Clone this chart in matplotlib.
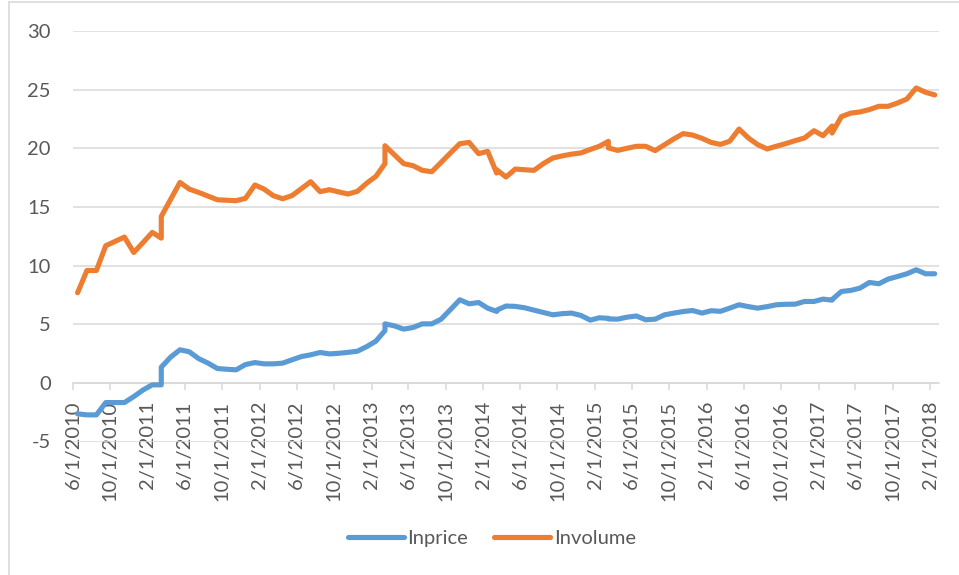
import numpy as np
import pandas as pd
import matplotlib
matplotlib.use("Agg")
import matplotlib.pyplot as plt
from matplotlib.patches import Rectangle

plt.rcParams['font.family'] = ['Lato', 'DejaVu Sans']
plt.rcParams['axes.unicode_minus'] = False

# monthly observations (two readings in some March months)
months = [
    '2010-06', '2010-07', '2010-08', '2010-09', '2010-10', '2010-11', '2010-12',
    '2011-01', '2011-02', '2011-03', '2011-03', '2011-04', '2011-05', '2011-06', '2011-07',
    '2011-08', '2011-09', '2011-10', '2011-11', '2011-12',
    '2012-01', '2012-02', '2012-03', '2012-04', '2012-05', '2012-06', '2012-07',
    '2012-08', '2012-09', '2012-10', '2012-11', '2012-12',
    '2013-01', '2013-02', '2013-03', '2013-03', '2013-04', '2013-05', '2013-06', '2013-07',
    '2013-08', '2013-09', '2013-10', '2013-11', '2013-12',
    '2014-01', '2014-02', '2014-03', '2014-03', '2014-04', '2014-05', '2014-06', '2014-07',
    '2014-08', '2014-09', '2014-10', '2014-11', '2014-12',
    '2015-01', '2015-02', '2015-03', '2015-03', '2015-04', '2015-05', '2015-06', '2015-07',
    '2015-08', '2015-09', '2015-10', '2015-11', '2015-12',
    '2016-01', '2016-02', '2016-03', '2016-04', '2016-05', '2016-06', '2016-07',
    '2016-08', '2016-09', '2016-10', '2016-11', '2016-12',
    '2017-01', '2017-02', '2017-03', '2017-03', '2017-04', '2017-05', '2017-06', '2017-07',
    '2017-08', '2017-09', '2017-10', '2017-11', '2017-12',
    '2018-01', '2018-02',
]

inprice = [
    -2.64, -2.73, -2.73, -1.68, -1.68, -1.68, -1.17,
    -0.60, -0.17, -0.17, 1.34, 2.19, 2.82, 2.65, 2.07, 1.68, 1.22, 1.16, 1.11, 1.56,
    1.73, 1.62, 1.62, 1.68, 1.96, 2.24, 2.39, 2.59, 2.47, 2.52, 2.60, 2.70,
    3.10, 3.56, 4.46, 5.03, 4.86, 4.58, 4.72, 5.03, 5.03, 5.43, 6.25, 7.08, 6.74,
    6.85, 6.37, 6.09, 6.20, 6.55, 6.52, 6.40, 6.20, 6.00, 5.80, 5.90, 5.95, 5.75,
    5.35, 5.55, 5.50, 5.45, 5.43, 5.60, 5.70, 5.38, 5.43, 5.80, 5.95, 6.08, 6.17,
    5.95, 6.15, 6.10, 6.37, 6.66, 6.50, 6.37, 6.50, 6.66, 6.70, 6.71, 6.94,
    6.94, 7.14, 7.05, 7.10, 7.79, 7.88, 8.08, 8.56, 8.45, 8.85, 9.07, 9.30, 9.64,
    9.30, 9.30,
]

involume = [
    7.68, 9.58, 9.58, 11.69, 12.06, 12.43, 11.12,
    11.98, 12.83, 12.34, 14.19, 15.64, 17.09, 16.52, 16.24, 15.92, 15.61, 15.57, 15.53, 15.73,
    16.87, 16.52, 15.96, 15.70, 15.96, 16.55, 17.15, 16.30, 16.47, 16.28, 16.10, 16.33,
    17.04, 17.61, 18.69, 20.22, 19.45, 18.69, 18.52, 18.12, 18.00, 18.80, 19.60, 20.39, 20.50,
    19.54, 19.74, 17.89, 18.17, 17.55, 18.23, 18.17, 18.12, 18.70, 19.17, 19.35, 19.50, 19.60,
    19.90, 20.17, 20.59, 20.03, 19.82, 20.00, 20.17, 20.17, 19.80, 20.30, 20.80, 21.25, 21.13,
    20.85, 20.50, 20.33, 20.60, 21.64, 20.88, 20.31, 19.94, 20.18, 20.40, 20.65, 20.88,
    21.50, 21.07, 21.90, 21.30, 22.70, 23.00, 23.10, 23.30, 23.58, 23.58, 23.86, 24.20, 25.14,
    24.77, 24.55,
]

blue = '#5B9BD5'
orange = '#ED7D31'
grid_c = '#D9D9D9'
text_c = '#595959'

# Excel date axis: each point sits in the middle of its month
start = pd.to_datetime(months)
x = start + (start + pd.offsets.MonthBegin(1) - start) / 2

fig = plt.figure(figsize=(9.59, 5.75), dpi=100)
ax = fig.add_axes([73 / 959, 1 - 441.5 / 575, (939 - 73) / 959, (441.5 - 31) / 575])

ax.plot(x, inprice, color=blue, lw=3.7, solid_capstyle='round', solid_joinstyle='round',
        label='Inprice', zorder=3)
ax.plot(x, involume, color=orange, lw=3.7, solid_capstyle='round', solid_joinstyle='round',
        label='Involume', zorder=3)

ax.set_ylim(-5, 30)
ax.set_yticks(np.arange(-5, 31, 5))
ax.set_xlim(pd.Timestamp('2010-06-01'), pd.Timestamp('2018-03-01'))

ticks = pd.date_range('2010-06-01', '2018-02-01', freq='4MS')
ax.set_xticks(ticks)
ax.set_xticklabels([f"{d.month}/{d.day}/{d.year}" for d in ticks])

ax.grid(axis='y', color=grid_c, lw=1.1, zorder=0)
for s in ['left', 'right', 'top']:
    ax.spines[s].set_visible(False)
ax.spines['bottom'].set_position(('data', 0))
ax.spines['bottom'].set_color(grid_c)
ax.spines['bottom'].set_linewidth(1.1)
ax.spines['bottom'].set_zorder(1)

ax.tick_params(axis='y', length=0, pad=16, labelsize=14.5, labelcolor=text_c)
ax.tick_params(axis='x', length=5, width=1.1, color=grid_c, pad=8, labelsize=14.5,
               labelcolor=text_c, labelrotation=90)

fig.legend(loc='center', bbox_to_anchor=(492 / 959, 1 - 538 / 575), ncol=2, frameon=False,
           fontsize=14.5, labelcolor=text_c, handlelength=2.75, handletextpad=0.2,
           columnspacing=1.3)

# chart area border
fig.patches.append(Rectangle((8.5 / 959, -0.05), 1.1, 0.05 + 1 - 1.7 / 575,
                             transform=fig.transFigure, fill=False, ec=grid_c, lw=1.2))

fig.savefig('out.png', dpi=100)
